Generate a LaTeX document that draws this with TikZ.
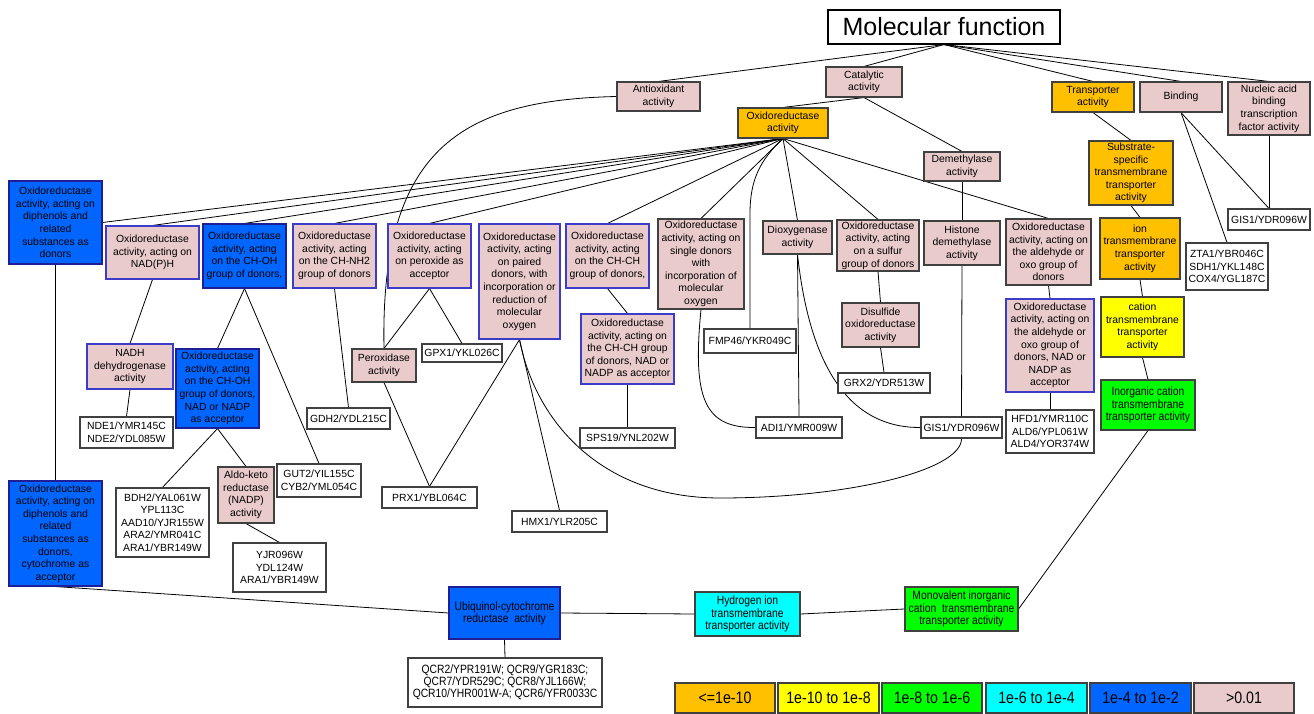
\documentclass[tikz,border=0pt]{standalone}
\usepackage{fontspec}
\setmainfont{Liberation Sans}
\newfontfamily\narrowfont[FakeStretch=0.86]{Liberation Sans}
\usetikzlibrary{calc}
\definecolor{pk}{RGB}{234,203,203}
\definecolor{org}{RGB}{255,192,0}
\definecolor{yel}{RGB}{255,255,0}
\definecolor{grn}{RGB}{0,255,0}
\definecolor{cyn}{RGB}{0,255,255}
\definecolor{blu}{RGB}{0,102,255}
\definecolor{bgr}{RGB}{64,64,64}
\definecolor{bbl}{RGB}{60,60,200}
\definecolor{dbl}{RGB}{30,30,150}
\pgfdeclarelayer{bg}
\pgfdeclarelayer{paper}
\pgfsetlayers{paper,bg,main}
\newcommand\bx[6]{\node[#1,minimum width={#4-#2},minimum height={#5-#3}] (#6) at ({(#2+#4)/2},{(#3+#5)/2})}
\begin{document}
\begin{tikzpicture}[x=1pt,y=-1pt,
  box/.style={draw, line width=1.1pt, inner sep=0.5pt, align=center, font=\fontsize{10.4}{12.6}\selectfont, text=black},
  pg/.style={box, fill=pk, draw=bgr},
  pb/.style={box, fill=pk, draw=bbl},
  bl/.style={box, fill=blu, draw=dbl},
  og/.style={box, fill=org, draw=bgr},
  ye/.style={box, fill=yel, draw=bgr},
  gr/.style={box, fill=grn, draw=bgr},
  cy/.style={box, fill=cyn, draw=bgr},
  gn/.style={box, fill=white, draw=bgr},
  nar/.style={font=\narrowfont\fontsize{12}{12.2}\selectfont},
  lg/.style={box, draw=bgr, font=\narrowfont\fontsize{16.5}{18}\selectfont},
  con/.style={line width=0.8pt, black}]
\begin{pgfonlayer}{paper}
\fill[white] (0,0) rectangle (1314,714);
\end{pgfonlayer}
\useasboundingbox (0,0) rectangle (1314,714);

% top level
\bx{box,fill=white,draw=black,font=\fontsize{25}{30}\selectfont}{828}{10}{1060}{44}{title}{Molecular function};
\bx{pg}{617}{82}{700}{111}{anti}{Antioxidant\\activity};
\bx{pg}{826}{67}{902}{97}{cat}{Catalytic\\activity};
\bx{og}{738}{108}{828}{138}{ox}{Oxidoreductase\\activity};
\bx{pg}{924}{152}{1000}{181}{demeth}{Demethylase\\activity};
\bx{og}{1052}{82}{1134}{112}{trans}{Transporter\\activity};
\bx{pg}{1140}{82}{1222}{112}{bind}{Binding};
\bx{pg}{1228}{82}{1310}{135}{nucl}{Nucleic acid\\binding\\transcription\\factor activity};
\bx{og}{1089}{141}{1173}{205}{subs}{Substrate-\\specific\\transmembrane\\transporter\\activity};
\bx{og}{1100}{218}{1180}{279}{ion}{ion\\transmembrane\\transporter\\activity};
\bx{gn}{1228}{209}{1310}{230}{gisr}{GIS1/YDR096W};
\bx{gn}{1186}{243}{1268}{290}{zta}{ZTA1/YBR046C\\SDH1/YKL148C\\COX4/YGL187C};
\bx{ye}{1101}{297}{1184}{357}{cation}{cation\\transmembrane\\transporter\\activity};
\bx{gr,nar}{1101}{380}{1195}{430}{inorg}{Inorganic cation\\transmembrane\\transporter activity};

% oxidoreductase children
\bx{bl}{9}{181}{102}{264}{diph}{Oxidoreductase\\activity, acting on\\diphenols and\\related\\substances as\\donors};
\bx{pb}{106}{226}{199}{279}{nadph}{Oxidoreductase\\activity, acting on\\NAD(P)H};
\bx{bl}{203}{224}{286}{288}{choh}{Oxidoreductase\\activity, acting\\on the CH-OH\\group of donors,};
\bx{pb}{293}{224}{376}{288}{chnh}{Oxidoreductase\\activity, acting\\on the CH-NH2\\group of donors};
\bx{pb}{388}{224}{471}{288}{perox}{Oxidoreductase\\activity, acting\\on peroxide as\\acceptor};
\bx{pb}{479}{224}{560}{339}{paired}{Oxidoreductase\\activity, acting\\on paired\\donors, with\\incorporation or\\reduction of\\molecular\\oxygen};
\bx{pb}{566}{224}{649}{288}{chch}{Oxidoreductase\\activity, acting\\on the CH-CH\\group of donors,};
\bx{pg}{658}{219}{744}{309}{single}{Oxidoreductase\\activity, acting on\\single donors\\with\\incorporation of\\molecular\\oxygen};
\bx{pg}{763}{221}{832}{254}{dioxy}{Dioxygenase\\activity};
\bx{pg}{837}{220}{919}{271}{sulfur}{Oxidoreductase\\activity, acting\\on a sulfur\\group of donors};
\bx{pg}{924}{221}{1000}{265}{histone}{Histone\\demethylase\\activity};
\bx{pg}{1006}{219}{1091}{285}{ald}{Oxidoreductase\\activity, acting on\\the aldehyde or\\oxo group of\\donors};
\bx{pb}{1006}{299}{1094}{392}{aldnad}{Oxidoreductase\\activity, acting on\\the aldehyde or\\oxo group of\\donors, NAD or\\NADP as\\acceptor};
\bx{gn}{1006}{410}{1094}{453}{hfd}{HFD1/YMR110C\\ALD6/YPL061W\\ALD4/YOR374W};
\bx{pg}{842}{303}{919}{347}{disulf}{Disulfide\\oxidoreductase\\activity};
\bx{gn}{838}{373}{930}{393}{grx}{GRX2/YDR513W};
\bx{gn}{704}{329}{796}{353}{fmp}{FMP46/YKR049C};
\bx{gn}{756}{417}{842}{438}{adi}{ADI1/YMR009W};
\bx{gn}{921}{417}{1002}{438}{gism}{GIS1/YDR096W};
\bx{pb}{581}{314}{674}{384}{chchnad}{Oxidoreductase\\activity, acting on\\the CH-CH group\\of donors, NAD or\\NADP as acceptor};
\bx{gn}{580}{428}{675}{448}{sps}{SPS19/YNL202W};
\bx{gn}{512}{511}{607}{532}{hmx}{HMX1/YLR205C};
\bx{pg}{352}{349}{416}{382}{peroxidase}{Peroxidase\\activity};
\bx{gn}{422}{344}{502}{362}{gpx}{GPX1/YKL026C};
\bx{gn}{382}{487}{477}{508}{prx}{PRX1/YBL064C};
\bx{gn}{307}{408}{390}{429}{gdh}{GDH2/YDL215C};
\bx{pb}{87}{344}{173}{389}{nadh}{NADH\\dehydrogenase\\activity};
\bx{gn}{80}{417}{173}{448}{nde}{NDE1/YMR145C\\NDE2/YDL085W};
\bx{bl}{176}{349}{259}{428}{chohnad}{Oxidoreductase\\activity, acting\\on the CH-OH\\group of donors,\\NAD or NADP\\as acceptor};
\bx{gn}{277}{464}{361}{497}{gut}{GUT2/YIL155C\\CYB2/YML054C};
\bx{gn}{116}{488}{209}{557}{bdh}{BDH2/YAL061W\\YPL113C\\AAD10/YJR155W\\ARA2/YMR041C\\ARA1/YBR149W};
\bx{pg}{218}{467}{274}{523}{aldo}{Aldo-keto\\reductase\\(NADP)\\activity};
\bx{gn}{233}{543}{326}{592}{yjr}{YJR096W\\YDL124W\\ARA1/YBR149W};
\bx{bl}{9}{481}{102}{586}{diphcyt}{Oxidoreductase\\activity, acting on\\diphenols and\\related\\substances as\\donors,\\cytochrome as\\acceptor};

% bottom row
\bx{bl,nar}{449}{587}{560}{639}{ubi}{Ubiquinol-cytochrome\\reductase\ \ activity};
\bx{gn,nar}{408}{658}{602}{707}{qcr}{QCR2/YPR191W; QCR9/YGR183C;\\QCR7/YDR529C; QCR8/YJL166W;\\QCR10/YHR001W-A; QCR6/YFR0033C};
\bx{cy,nar}{695}{592}{800}{636}{hyd}{Hydrogen ion\\transmembrane\\transporter activity};
\bx{gr,nar}{905}{587}{1018}{631}{mono}{Monovalent inorganic\\cation\ \ transmembrane\\transporter activity};

% legend
\bx{lg,fill=org}{675}{683}{775}{713}{leg1}{<=1e-10};
\bx{lg,fill=yel}{778}{683}{879}{713}{leg2}{1e-10 to 1e-8};
\bx{lg,fill=grn}{882}{683}{982}{713}{leg3}{1e-8 to 1e-6};
\bx{lg,fill=cyn}{986}{683}{1087}{713}{leg4}{1e-6 to 1e-4};
\bx{lg,fill=blu}{1090}{683}{1191}{713}{leg5}{1e-4 to 1e-2};
\bx{lg,fill=pk}{1194}{683}{1294}{713}{leg6}{>0.01};

\begin{pgfonlayer}{bg}
% from root
\draw[con] (title.south) -- (anti.north);
\draw[con] (title.south) -- (cat.north);
\draw[con] (title.south) -- (trans.north);
\draw[con] (title.south) -- (bind.north);
\draw[con] (title.south) -- (nucl.north);
\draw[con] (cat.south) -- (ox.north);
\draw[con] (cat.south) -- (demeth.north);
\draw[con] (demeth.south) -- (histone.north);
% transporter branch
\draw[con] (trans.south) -- (subs.north);
\draw[con] (subs.south) -- (ion.north);
\draw[con] (ion.south) -- (cation.north);
\draw[con] (cation.south) -- (inorg.north);
\draw[con] (inorg.south) -- (mono.east);
\draw[con] (mono.west) -- (hyd.east);
\draw[con] (hyd.west) -- (ubi.east);
\draw[con] (ubi.south) -- (qcr.north);
\draw[con] (bind.south) -- (zta.north);
\draw[con] (bind.south) -- (gisr.north);
\draw[con] (nucl.south) -- (gisr.north);
% oxidoreductase hub
\draw[con] (ox.south) -- (diph.east);
\draw[con] (ox.south) -- (nadph.north);
\draw[con] (ox.south) -- (choh.north);
\draw[con] (ox.south) -- (chnh.north);
\draw[con] (ox.south) -- (perox.north);
\draw[con] (ox.south) -- (chch.north);
\draw[con] (ox.south) -- (single.north);
\draw[con] (ox.south) -- (dioxy.north);
\draw[con] (ox.south) -- (sulfur.north);
\draw[con] (ox.south) -- (ald.north);
\draw[con] (ox.south) .. controls (760,160) and (750,180) .. ($(fmp.north)+(0,-115)$) -- (fmp.north);
% antioxidant curve
\draw[con] (anti.west) .. controls (460,100) and (380,150) .. (peroxidase.north);
% left branches
\draw[con] (diph.south) -- (diphcyt.north);
\draw[con] (diphcyt.south) -- (ubi.west);
\draw[con] (nadph.south) -- (nadh.north);
\draw[con] (nadh.south) -- (nde.north);
\draw[con] (choh.south) -- (chohnad.north);
\draw[con] (choh.south) -- (gut.north);
\draw[con] (chohnad.south) -- (bdh.north);
\draw[con] (chohnad.south) -- (aldo.north);
\draw[con] (aldo.south) -- (yjr.north);
\draw[con] (chnh.south) -- (gdh.north);
\draw[con] (perox.south) -- (peroxidase.north);
\draw[con] (perox.south) -- (gpx.north);
\draw[con] (peroxidase.south) -- (prx.north);
\draw[con] (paired.south) -- (prx.north);
\draw[con] (paired.south) -- (hmx.north);
\draw[con] (paired.south) .. controls (535,420) and (600,498) .. (720,498) .. controls (850,498) and (962,470) .. (gism.south);
\draw[con] (chch.south) -- (chchnad.north);
\draw[con] (chchnad.south) -- (sps.north);
\draw[con] (single.south) .. controls (692,400) and (705,428) .. (adi.west);
\draw[con] (dioxy.south) -- (adi.north);
\draw[con] (dioxy.south) .. controls (808,350) and (840,428) .. (gism.west);
\draw[con] (sulfur.south) -- (disulf.north);
\draw[con] (disulf.south) -- (grx.north);
\draw[con] (histone.south) -- (gism.north);
\draw[con] (ald.south) -- (aldnad.north);
\draw[con] (aldnad.south) -- (hfd.north);
\end{pgfonlayer}
\end{tikzpicture}
\end{document}
